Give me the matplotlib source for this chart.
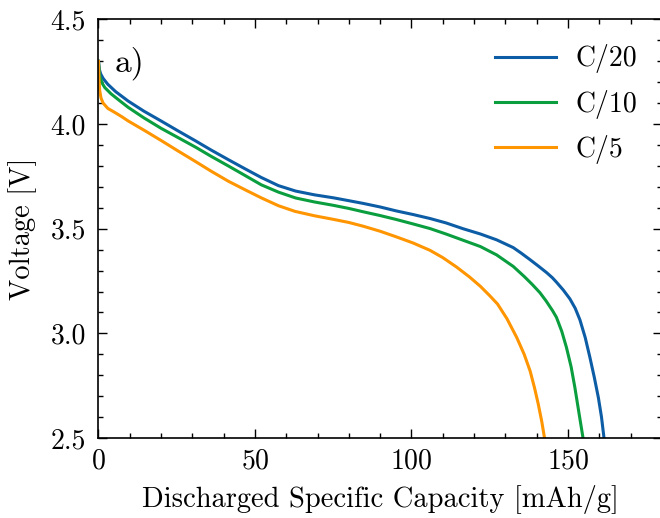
import matplotlib
matplotlib.use("Agg")
import matplotlib.pyplot as plt
from matplotlib.ticker import MultipleLocator, FormatStrFormatter

# Discharge curves: specific capacity [mAh/g] vs. cell voltage [V]
cap_c20 = [0, 0.3, 0.7, 1.5, 3, 5.5, 9.5, 14.5, 20, 25.5, 31, 36, 41.5, 47, 52,
           57.5, 63, 69, 75, 80, 84.6, 90, 95.2, 100.5, 105.9, 111, 116.5, 122,
           127.2, 132.5, 135, 137.8, 140.5, 143.2, 145, 146.3, 148.5, 150.6,
           152.3, 153.8, 155.5, 157, 158.4, 159.7, 160.7, 161.5]
volt_c20 = [4.30, 4.26, 4.24, 4.218, 4.19, 4.155, 4.11, 4.062, 4.015, 3.967, 3.92,
            3.876, 3.83, 3.785, 3.745, 3.706, 3.68, 3.662, 3.648, 3.634, 3.621,
            3.604, 3.585, 3.568, 3.549, 3.528, 3.50, 3.475, 3.447, 3.41, 3.384,
            3.353, 3.322, 3.29, 3.266, 3.245, 3.207, 3.165, 3.12, 3.065, 2.98,
            2.885, 2.79, 2.693, 2.60, 2.50]

cap_c10 = [0, 0.3, 0.6, 1.2, 2, 4, 6.5, 9.5, 14.5, 20, 25.5, 31, 36, 41.5, 47,
           52, 57.5, 63, 69, 75, 80, 84.6, 90, 95.2, 100.5, 105.9, 111, 116.5,
           122, 127.2, 132.5, 136, 138.5, 141, 143, 145, 146.3, 148, 149.5, 151,
           152.2, 153.5, 154.8]
volt_c10 = [4.30, 4.24, 4.22, 4.195, 4.175, 4.145, 4.115, 4.08, 4.03, 3.98, 3.935,
            3.89, 3.846, 3.80, 3.753, 3.71, 3.675, 3.647, 3.628, 3.612, 3.597,
            3.581, 3.563, 3.544, 3.523, 3.501, 3.475, 3.445, 3.415, 3.375, 3.32,
            3.272, 3.235, 3.195, 3.155, 3.11, 3.077, 3.01, 2.933, 2.84, 2.741,
            2.62, 2.50]

cap_c5 = [0, 0.15, 0.4, 0.8, 1.5, 3, 5.3, 7.5, 9.5, 15, 20.2, 25.5, 30.8, 36,
          41.5, 47, 52.1, 57.5, 62.8, 69, 75, 80, 84.6, 90, 95.2, 100.5, 105.9,
          110, 114.4, 118.5, 122, 125, 127.5, 130.5, 133.6, 136, 137.9, 139.3,
          140.5, 141.6, 142.5]
volt_c5 = [4.30, 4.22, 4.16, 4.125, 4.10, 4.075, 4.055, 4.035, 4.015, 3.967, 3.92,
           3.871, 3.823, 3.775, 3.727, 3.685, 3.647, 3.61, 3.583, 3.562, 3.545,
           3.53, 3.512, 3.488, 3.461, 3.432, 3.397, 3.362, 3.317, 3.27, 3.225,
           3.18, 3.14, 3.07, 2.981, 2.90, 2.82, 2.74, 2.662, 2.58, 2.50]

labels = ["C/20", "C/10", "C/5"]
colors = ["#0C5DA5", "#0A9E3F", "#FF9500"]

plt.rcParams["font.family"] = "cmr10"
plt.rcParams["mathtext.fontset"] = "cm"
plt.rcParams["axes.formatter.use_mathtext"] = True
plt.rcParams["font.size"] = 20

fig = plt.figure(figsize=(6.6, 5.18), dpi=100)
ax = fig.add_axes([0.1492, 0.1544, 0.8537, 0.8080])

for x, y, lab, c in zip([cap_c20, cap_c10, cap_c5],
                        [volt_c20, volt_c10, volt_c5], labels, colors):
    ax.plot(x, y, color=c, lw=2.2, label=lab, solid_joinstyle="round")

ax.set_xlim(0, 180)
ax.set_ylim(2.5, 4.5)
ax.xaxis.set_major_locator(MultipleLocator(50))
ax.xaxis.set_minor_locator(MultipleLocator(10))
ax.yaxis.set_major_locator(MultipleLocator(0.5))
ax.yaxis.set_minor_locator(MultipleLocator(0.1))
ax.yaxis.set_major_formatter(FormatStrFormatter("%.1f"))

ax.tick_params(which="both", direction="in", top=True, right=True, width=1.0,
               labelsize=20)
ax.tick_params(axis="y", pad=9)
ax.tick_params(axis="x", pad=7)
ax.tick_params(which="major", length=6.5)
ax.tick_params(which="minor", length=3.6)
for s in ax.spines.values():
    s.set_linewidth(1.2)

ax.set_xlabel("Discharged Specific Capacity [mAh/g]", fontsize=20.5, labelpad=8)
ax.set_ylabel("Voltage [V]", fontsize=20.5, labelpad=10)

ax.text(0.029, 0.935, "a)", transform=ax.transAxes, fontsize=24,
        ha="left", va="top")

ax.legend(loc="upper right", frameon=False, fontsize=20, handlelength=2.2,
          handletextpad=0.7, labelspacing=0.58, borderaxespad=0.5)

fig.savefig("out.png", dpi=100)
